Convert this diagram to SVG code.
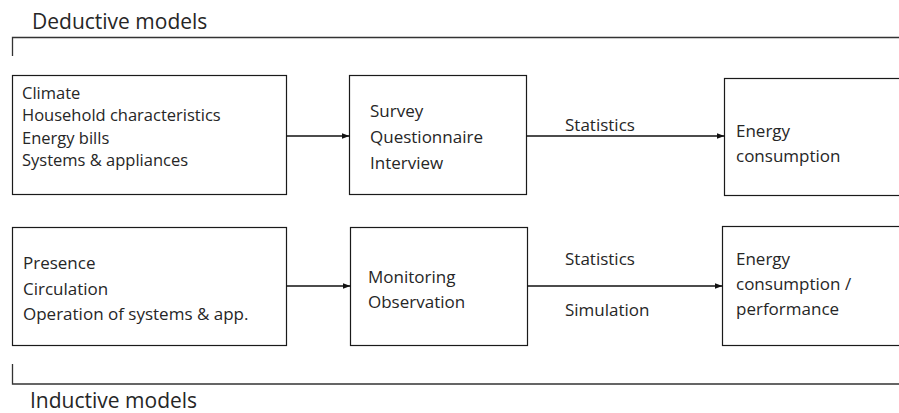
<svg xmlns="http://www.w3.org/2000/svg" width="899" height="413" viewBox="0 0 899 413">
  <style>
    .box { fill: #ffffff; stroke: #1a1a1a; stroke-width: 1.2; }
    .t { font-family: "Open Sans", "DejaVu Sans", sans-serif; font-size: 17px; fill: #262626; }
    .tight { font-size: 16.5px; }
    .title { font-family: "Open Sans", "DejaVu Sans", sans-serif; font-size: 21px; fill: #262626; }
    .edge { fill: none; stroke: #111; stroke-width: 1.3; marker-end: url(#arrow); }
    .bracket { fill: none; stroke: #333; stroke-width: 1.3; }
  </style>
  <defs>
    <marker id="arrow" viewBox="0 0 8 8" refX="8" refY="4" markerWidth="8" markerHeight="8" markerUnits="userSpaceOnUse" orient="auto">
      <path d="M0,1 L8,4 L0,7 Z" fill="#111"/>
    </marker>
  </defs>

  <rect width="899" height="413" fill="#ffffff"/>

  <!-- Group brackets and headings -->
  <g id="deductive-bracket">
    <text class="title" x="32" y="28.5">Deductive models</text>
    <path class="bracket" d="M12.5,56 V37.5 H899"/>
  </g>
  <g id="inductive-bracket">
    <path class="bracket" d="M12.5,364 V384 H899"/>
    <text class="title" x="30" y="408">Inductive models</text>
  </g>

  <!-- Deductive row -->
  <g id="inputs-deductive">
    <rect class="box" x="12.5" y="75.5" width="274" height="119"/>
    <text class="t tight" x="22" y="98.5">
      <tspan x="22" y="98.5">Climate</tspan>
      <tspan x="22" y="121">Household characteristics</tspan>
      <tspan x="22" y="143.5">Energy bills</tspan>
      <tspan x="22" y="166">Systems &amp; appliances</tspan>
    </text>
  </g>
  <g id="survey">
    <rect class="box" x="349.5" y="75.5" width="177" height="119"/>
    <text class="t" x="370" y="117">
      <tspan x="370" y="117">Survey</tspan>
      <tspan x="370" y="143">Questionnaire</tspan>
      <tspan x="370" y="168.5">Interview</tspan>
    </text>
  </g>
  <g id="energy-consumption">
    <rect class="box" x="724.5" y="78.5" width="190" height="117"/>
    <text class="t" x="736" y="137">
      <tspan x="736" y="137">Energy</tspan>
      <tspan x="736" y="162">consumption</tspan>
    </text>
  </g>

  <!-- Inductive row -->
  <g id="inputs-inductive">
    <rect class="box" x="12.5" y="227.5" width="274" height="118"/>
    <text class="t" x="23" y="268.5">
      <tspan x="23" y="268.5">Presence</tspan>
      <tspan x="23" y="294.5">Circulation</tspan>
      <tspan x="23" y="320">Operation of systems &amp; app.</tspan>
    </text>
  </g>
  <g id="monitoring">
    <rect class="box" x="350.5" y="227.5" width="177" height="118"/>
    <text class="t" x="368" y="283">
      <tspan x="368" y="283">Monitoring</tspan>
      <tspan x="368" y="308">Observation</tspan>
    </text>
  </g>
  <g id="energy-performance">
    <rect class="box" x="722.5" y="226.5" width="190" height="119"/>
    <text class="t" x="736" y="264.5">
      <tspan x="736" y="264.5">Energy</tspan>
      <tspan x="736" y="289.5">consumption /</tspan>
      <tspan x="736" y="314.5">performance</tspan>
    </text>
  </g>

  <!-- Connectors -->
  <g id="connectors">
    <path class="edge" d="M286.5,136 H349.5"/>
    <path class="edge" d="M526.5,136 H724.5"/>
    <text class="t" x="565" y="131">Statistics</text>
    <path class="edge" d="M286.5,286 H350.5"/>
    <path class="edge" d="M527.5,286 H722.5"/>
    <text class="t" x="565" y="264.5">Statistics</text>
    <text class="t" x="565" y="316">Simulation</text>
  </g>
</svg>
